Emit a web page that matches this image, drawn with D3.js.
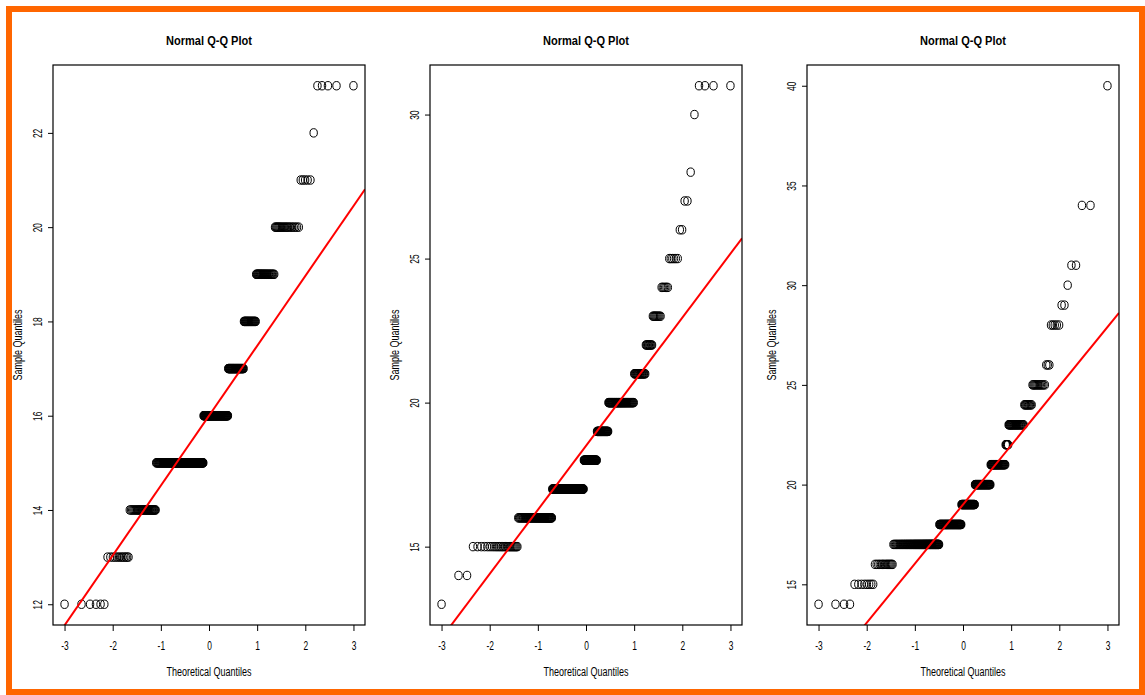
<!DOCTYPE html>
<html lang="en">
<head>
<meta charset="utf-8">
<title>Normal Q-Q Plots</title>
<script src="https://d3js.org/d3.v7.min.js"></script>
<style>
  body { margin: 0; background: #fff; }
  text { font-family: "Liberation Sans", Arial, Helvetica, sans-serif; fill: #000; }
</style>
</head>
<body>
<div id="main"></div>
<script>

// sample values and how many times each one occurs (n = 370 per panel)
var values1 = [12, 13, 14, 15, 16, 17, 18, 19, 20, 21, 22, 23];
var counts1 = [6, 12, 32, 118, 74, 41, 26, 29, 21, 5, 1, 5];

var values2 = [13, 14, 15, 16, 17, 18, 19, 20, 21, 22, 23, 24, 25, 26, 27, 28, 30, 31];
var counts2 = [1, 2, 26, 60, 89, 40, 33, 60, 19, 9, 9, 6, 6, 2, 2, 1, 1, 4];

var values3 = [14, 15, 16, 17, 18, 19, 20, 21, 22, 23, 24, 25, 26, 28, 29, 30, 31, 34, 40];
var counts3 = [4, 8, 15, 88, 65, 41, 44, 35, 6, 26, 10, 12, 3, 5, 2, 1, 2, 2, 1];

var xTicks = [-3, -2, -1, 0, 1, 2, 3];
var yTicks1 = [12, 14, 16, 18, 20, 22];
var yTicks2 = [15, 20, 25, 30];
var yTicks3 = [15, 20, 25, 30, 35, 40];

var title = "Normal Q-Q Plot";
var xLabel = "Theoretical Quantiles";
var yLabel = "Sample Quantiles";

var panels = [
  {values: values1, counts: counts1, yTicks: yTicks1, left: 53},
  {values: values2, counts: counts2, yTicks: yTicks2, left: 430},
  {values: values3, counts: counts3, yTicks: yTicks3, left: 807}
];

var width = 1145,
    height = 695,
    boxW = 312,
    boxTop = 65,
    boxBottom = 625;

// inverse normal cdf (Acklam)
function qnorm(p) {
  var a = [-3.969683028665376e+01, 2.209460984245205e+02, -2.759285104469687e+02, 1.383577518672690e+02, -3.066479806614716e+01, 2.506628277459239e+00],
      b = [-5.447609879822406e+01, 1.615858368580409e+02, -1.556989798598866e+02, 6.680131188771972e+01, -1.328068155288572e+01],
      c = [-7.784894002430293e-03, -3.223964580411365e-01, -2.400758277161838e+00, -2.549671348304999e+00, 4.374664141464968e+00, 2.938163982698783e+00],
      d = [7.784695709041462e-03, 3.224671290700398e-01, 2.445134137142996e+00, 3.754408661907416e+00];
  var plow = 0.02425, q, r;
  if (p < plow) {
    q = Math.sqrt(-2 * Math.log(p));
    return (((((c[0]*q + c[1])*q + c[2])*q + c[3])*q + c[4])*q + c[5]) / ((((d[0]*q + d[1])*q + d[2])*q + d[3])*q + 1);
  }
  if (p <= 1 - plow) {
    q = p - 0.5; r = q * q;
    return (((((a[0]*r + a[1])*r + a[2])*r + a[3])*r + a[4])*r + a[5])*q / (((((b[0]*r + b[1])*r + b[2])*r + b[3])*r + b[4])*r + 1);
  }
  q = Math.sqrt(-2 * Math.log(1 - p));
  return -(((((c[0]*q + c[1])*q + c[2])*q + c[3])*q + c[4])*q + c[5]) / ((((d[0]*q + d[1])*q + d[2])*q + d[3])*q + 1);
}

// like R's extendrange: 4% on each side
function pad(ext) {
  var e = (ext[1] - ext[0]) * 0.04;
  return [ext[0] - e, ext[1] + e];
}

// squeeze text horizontally so it looks like the narrow R font
function condense(sel, f) {
  sel.each(function() {
    var w = this.getComputedTextLength();
    d3.select(this).attr("textLength", w * f).attr("lengthAdjust", "spacingAndGlyphs");
  });
}

var svg = d3.select("#main").append("svg")
  .attr("width", width)
  .attr("height", height);

svg.append("rect")
  .attr("x", 9).attr("y", 9)
  .attr("width", width - 12).attr("height", height - 12)
  .attr("fill", "none")
  .attr("stroke", "#ff6600")
  .attr("stroke-width", 6);

panels.forEach(function(p, k) {
  // expand counts into sorted sample
  var sample = [];
  p.values.forEach(function(v, i) {
    for (var j = 0; j < p.counts[i]; j++) sample.push(v);
  });
  var n = sample.length;
  var pts = sample.map(function(v, i) {
    return {t: qnorm((i + 1 - 0.5) / n), v: v};
  });

  var x = d3.scaleLinear()
    .domain(pad(d3.extent(pts, function(d) { return d.t; })))
    .range([p.left, p.left + boxW]);
  var y = d3.scaleLinear()
    .domain(pad(d3.extent(sample)))
    .range([boxBottom, boxTop]);

  var g = svg.append("g");

  g.append("clipPath").attr("id", "clip" + k)
    .append("rect")
    .attr("x", p.left).attr("y", boxTop)
    .attr("width", boxW).attr("height", boxBottom - boxTop);

  // points
  g.append("g")
    .selectAll("ellipse")
    .data(pts)
    .enter().append("ellipse")
    .attr("cx", function(d) { return x(d.t); })
    .attr("cy", function(d) { return y(d.v); })
    .attr("rx", 3.7)
    .attr("ry", 4.2)
    .attr("fill", "none")
    .attr("stroke", "#000")
    .attr("stroke-width", 1);

  // qqline through the quartiles
  var y1 = d3.quantile(sample, 0.25), y2 = d3.quantile(sample, 0.75);
  var x1 = qnorm(0.25), x2 = qnorm(0.75);
  var slope = (y2 - y1) / (x2 - x1), inter = y1 - slope * x1;
  var xd = x.domain();
  g.append("line")
    .attr("clip-path", "url(#clip" + k + ")")
    .attr("x1", x(xd[0])).attr("y1", y(inter + slope * xd[0]))
    .attr("x2", x(xd[1])).attr("y2", y(inter + slope * xd[1]))
    .attr("stroke", "#ff0000")
    .attr("stroke-width", 2);

  // box
  g.append("rect")
    .attr("x", p.left).attr("y", boxTop)
    .attr("width", boxW).attr("height", boxBottom - boxTop)
    .attr("fill", "none")
    .attr("stroke", "#000")
    .attr("stroke-width", 1.2);

  // x axis
  var xa = g.append("g")
    .attr("transform", "translate(0," + boxBottom + ")")
    .call(d3.axisBottom(x).tickValues(xTicks).tickSize(6).tickPadding(10).tickFormat(function(d) { return String(d); }));
  xa.select(".domain").remove();
  xa.selectAll("text").attr("font-size", 12).attr("font-family", null).call(condense, 0.7);

  // y axis
  var ya = g.append("g")
    .attr("transform", "translate(" + p.left + ",0)")
    .call(d3.axisLeft(y).tickValues(p.yTicks).tickSize(5).tickFormat(function(d) { return String(d); }));
  ya.select(".domain").remove();
  ya.selectAll("text")
    .attr("transform", "rotate(-90)")
    .attr("x", 0).attr("y", -11).attr("dy", null)
    .attr("text-anchor", "middle")
    .attr("font-size", 12).attr("font-family", null)
    .call(condense, 0.7);

  var cx = p.left + boxW / 2;

  g.append("text")
    .attr("x", cx).attr("y", 45)
    .attr("text-anchor", "middle")
    .attr("font-weight", "bold")
    .attr("font-size", 13)
    .text(title)
    .call(condense, 0.85);

  g.append("text")
    .attr("x", cx).attr("y", 676)
    .attr("text-anchor", "middle")
    .attr("font-size", 12)
    .text(xLabel)
    .call(condense, 0.75);

  g.append("text")
    .attr("transform", "translate(" + (p.left - 31) + "," + ((boxTop + boxBottom) / 2) + ") rotate(-90)")
    .attr("text-anchor", "middle")
    .attr("font-size", 12)
    .text(yLabel)
    .call(condense, 0.75);
});

</script>
</body>
</html>
